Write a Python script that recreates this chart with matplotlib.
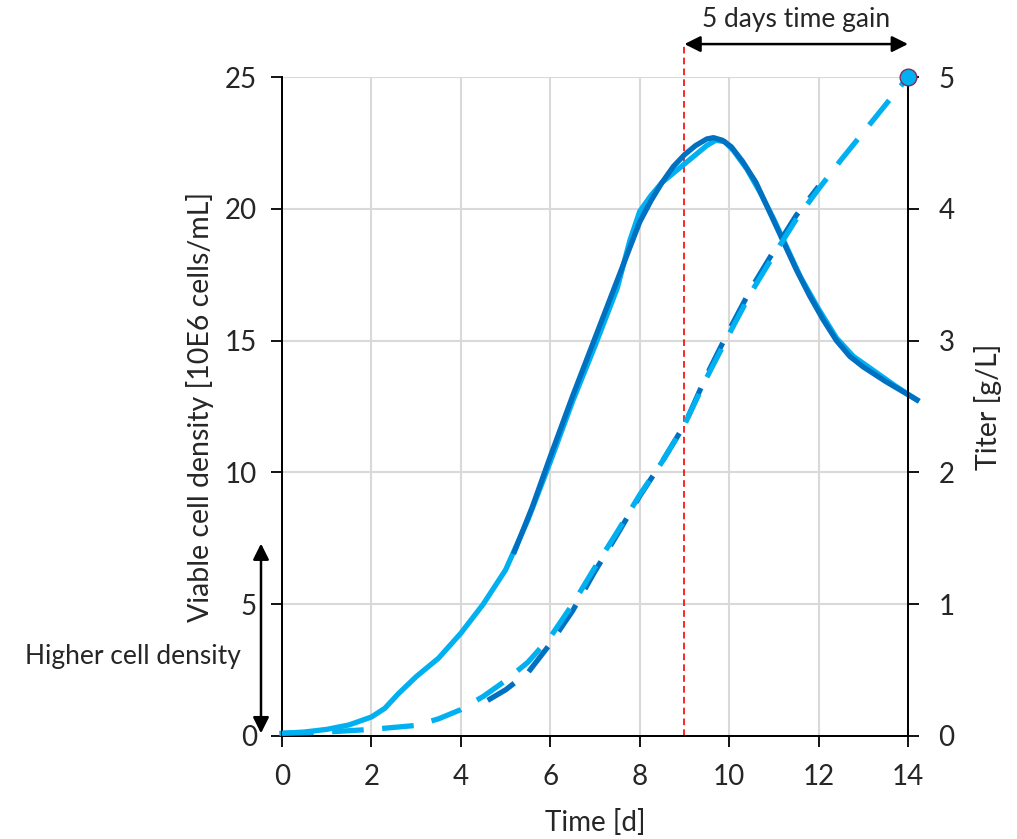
import matplotlib.pyplot as plt
import numpy as np

plt.rcParams['font.family'] = ['Lato', 'DejaVu Sans']

light = '#00B0F0'
dark = '#0070C0'
txt = '#262626'

# viable cell density, light blue run
vcd_light_t = [0, 0.5, 1, 1.5, 2, 2.3, 2.6, 3, 3.5, 4, 4.5, 5, 5.5, 6, 6.5, 7, 7.5, 7.78,
               8, 8.25, 8.5, 8.75, 9, 9.25, 9.5, 9.7, 9.9, 10.1, 10.4, 10.7, 11, 11.3,
               11.6, 12, 12.4, 12.78, 13.2, 13.7, 14.2]
vcd_light = [0.1, 0.15, 0.25, 0.42, 0.72, 1.05, 1.6, 2.25, 2.95, 3.9, 5.0, 6.3, 8.2, 10.4,
             12.7, 14.8, 17.0, 18.8, 19.9, 20.5, 21.0, 21.35, 21.7, 22.05, 22.4, 22.6,
             22.55, 22.2, 21.5, 20.6, 19.6, 18.5, 17.4, 16.2, 15.1, 14.4, 13.9, 13.3,
             12.75]

# viable cell density, dark blue run
vcd_dark_t = [5.2, 5.6, 6, 6.5, 7, 7.5, 8, 8.25, 8.5, 8.75, 9, 9.25, 9.5, 9.65, 9.85,
              10.05, 10.3, 10.6, 10.9, 11.2, 11.5, 11.8, 12.1, 12.4, 12.7, 13.0, 13.5,
              14.2]
vcd_dark = [7.0, 8.7, 10.6, 12.9, 15.1, 17.3, 19.5, 20.3, 21.0, 21.6, 22.05, 22.4,
            22.65, 22.7, 22.6, 22.35, 21.8, 21.0, 19.9, 18.8, 17.7, 16.7, 15.8, 15.0,
            14.4, 14.0, 13.45, 12.75]

# titer, light blue run
titer_light_t = [0, 1, 2, 3, 3.5, 4, 4.5, 5, 5.5, 6, 6.5, 7, 7.5, 8, 8.5, 9, 9.5, 10,
                 10.5, 11, 11.5, 12, 12.5, 13, 13.5, 14]
titer_light = [0.02, 0.03, 0.05, 0.08, 0.13, 0.2, 0.3, 0.42, 0.56, 0.75, 1.0, 1.28,
               1.55, 1.83, 2.08, 2.36, 2.72, 3.05, 3.37, 3.65, 3.92, 4.15, 4.37, 4.58,
               4.79, 5.0]

# titer, dark blue run
titer_dark_t = [4.6, 5, 5.5, 6, 6.5, 7, 7.5, 8, 8.5, 9, 9.5, 10, 10.5, 11, 11.5, 12]
titer_dark = [0.27, 0.35, 0.48, 0.7, 0.95, 1.25, 1.53, 1.82, 2.08, 2.36, 2.74, 3.08,
              3.4, 3.68, 3.95, 4.17]

fig = plt.figure(figsize=(10.17, 8.39), dpi=100)
ax = fig.add_axes([0.2773, 0.1228, 0.6155, 0.7854])
ax2 = ax.twinx()

ax.set_xlim(0, 14)
ax.set_ylim(0, 25)
ax2.set_ylim(0, 5)
ax.set_xticks(range(0, 15, 2))
ax.set_yticks(range(0, 26, 5))
ax2.set_yticks(range(0, 6))

ax.grid(True, color='#d9d9d9', lw=1.5)
ax.set_axisbelow(True)
for a in (ax, ax2):
    a.spines['top'].set_visible(False)
    for s in ('left', 'right', 'bottom'):
        a.spines[s].set_linewidth(1.3)
    a.tick_params(labelsize=20, length=8, width=1.3, direction='out', colors='black',
                  labelcolor=txt)
ax.tick_params(axis='x', pad=12)
ax.tick_params(axis='y', pad=10)
ax2.tick_params(axis='y', pad=14)

ax.plot(vcd_light_t, vcd_light, color=light, lw=3.8, clip_on=False, zorder=3)
ax.plot(vcd_dark_t, vcd_dark, color=dark, lw=3.8, clip_on=False, zorder=4)
ax2.plot(titer_dark_t, titer_dark, color=dark, lw=3.8, dashes=(6, 3.5), zorder=3)
ax2.plot(titer_light_t, titer_light, color=light, lw=3.8, dashes=(6, 3.5),
         clip_on=False, zorder=4)
ax2.plot([14], [5], 'o', color=light, markersize=12, markeredgecolor='#7a3060',
         markeredgewidth=1, clip_on=False, zorder=5)

# time gain marker
ax.plot([9, 9], [0, 26.2], color='red', lw=1.2, dashes=(4, 2.5), clip_on=False, zorder=2)
ax.annotate('', xy=(9, 26.25), xytext=(14, 26.25),
            arrowprops=dict(arrowstyle='<|-|>', color='black', lw=1.8,
                            mutation_scale=24, shrinkA=0, shrinkB=0),
            annotation_clip=False)
ax.text(11.5, 27.2, '5 days time gain', ha='center', va='center', fontsize=19,
        color=txt)

# cell density arrow
ax.annotate('', xy=(-0.47, 0.1), xytext=(-0.47, 7.3),
            arrowprops=dict(arrowstyle='<|-|>', color='black', lw=1.8,
                            mutation_scale=24, shrinkA=0, shrinkB=0),
            annotation_clip=False)
ax.text(-0.93, 3.0, 'Higher cell density', ha='right', va='center', fontsize=19,
        color=txt)

ax.set_xlabel('Time [d]', fontsize=20, color=txt, labelpad=14)
ax.set_ylabel('Viable cell density [10E6 cells/mL]', fontsize=20.5, color=txt,
              labelpad=8)
ax2.set_ylabel('Titer [g/L]', fontsize=20.5, color=txt, labelpad=14)

fig.savefig('out.png', dpi=100)
